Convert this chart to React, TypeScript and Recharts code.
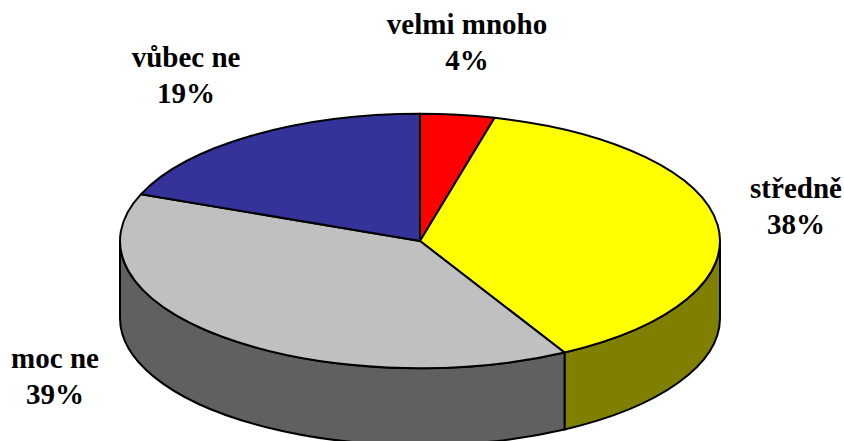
import React from 'react'
import { PieChart, Pie } from 'recharts'

const categories = ['velmi mnoho', 'středně', 'moc ne', 'vůbec ne']
const values = [4, 38, 39, 19]
const topColors = ['#FF0000', '#FFFF00', '#C0C0C0', '#333399']
const sideColors = ['#800000', '#808000', '#606060', '#1A1A4D']

const data = categories.map((name, i) => ({
  name,
  value: values[i],
  fill: topColors[i],
  side: sideColors[i]
}))

// the pie is tilted: vertical radius is this share of the horizontal one
const SQUASH = 0.424
const DEPTH = 77
const RAD = Math.PI / 180

const LABEL_CENTERS = [
  { x: 467, y: 27 },
  { x: 796, y: 191 },
  { x: 55, y: 361 },
  { x: 186, y: 60 }
]
const LINE_GAP = 36

const px = (cx: number, r: number, a: number) => cx + r * Math.cos(a * RAD)
const py = (cy: number, r: number, a: number) => cy - r * SQUASH * Math.sin(a * RAD)

const TopSlice = (props: any) => {
  const { cx, cy, outerRadius: r, startAngle, endAngle, fill } = props
  const lo = Math.min(startAngle, endAngle)
  const hi = Math.max(startAngle, endAngle)
  const large = hi - lo > 180 ? 1 : 0
  const d = `M${cx},${cy} L${px(cx, r, hi)},${py(cy, r, hi)} A${r},${r * SQUASH} 0 ${large} 1 ${px(cx, r, lo)},${py(cy, r, lo)} Z`
  return <path d={d} fill={fill} stroke="#000" strokeWidth={2} strokeLinejoin="round" />
}

// outer wall, only the part that faces the viewer (lower half of the ellipse)
const SideSlice = (props: any) => {
  const { cx, cy, outerRadius: r, startAngle, endAngle, payload } = props
  let lo = Math.min(startAngle, endAngle)
  let hi = Math.max(startAngle, endAngle)
  // normalise to the -180..0 lower half
  const shift = hi > 0 && lo >= 0 ? -360 : 0
  lo = Math.max(lo + shift, -180)
  hi = Math.min(hi + shift, 0)
  if (hi <= lo) return <g />
  const rx = r
  const ry = r * SQUASH
  const d = [
    `M${px(cx, r, lo)},${py(cy, r, lo)}`,
    `A${rx},${ry} 0 0 0 ${px(cx, r, hi)},${py(cy, r, hi)}`,
    `L${px(cx, r, hi)},${py(cy, r, hi) + DEPTH}`,
    `A${rx},${ry} 0 0 1 ${px(cx, r, lo)},${py(cy, r, lo) + DEPTH}`,
    'Z'
  ].join(' ')
  return <path d={d} fill={payload.side} stroke="#000" strokeWidth={2} strokeLinejoin="round" />
}

const renderLabel = (props: any) => {
  const { index, name, value } = props
  const pos = LABEL_CENTERS[index]
  return (
    <text
      x={pos.x}
      y={pos.y}
      textAnchor="middle"
      fontFamily="'Liberation Serif', serif"
      fontWeight="bold"
      fontSize={29}
      fill="#000"
      dominantBaseline="middle"
    >
      <tspan x={pos.x}>{name}</tspan>
      <tspan x={pos.x} dy={LINE_GAP}>{value}%</tspan>
    </text>
  )
}

export default function App() {
  return (
    <div style={{ position: 'absolute', left: 0, top: 0, width: 844, height: 441, background: '#fff' }}>
      <PieChart width={844} height={441} margin={{ top: 0, right: 0, bottom: 0, left: 0 }}>
        <Pie
          data={data}
          dataKey="value"
          nameKey="name"
          cx={420}
          cy={241}
          outerRadius={300}
          startAngle={90}
          endAngle={-270}
          shape={SideSlice}
          isAnimationActive={false}
          legendType="none"
        />
        <Pie
          data={data}
          dataKey="value"
          nameKey="name"
          cx={420}
          cy={241}
          outerRadius={300}
          startAngle={90}
          endAngle={-270}
          shape={TopSlice}
          label={renderLabel}
          labelLine={false}
          isAnimationActive={false}
          legendType="none"
        />
      </PieChart>
    </div>
  )
}
